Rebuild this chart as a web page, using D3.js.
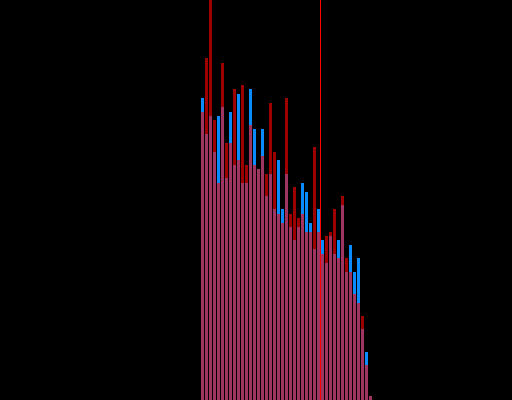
<!DOCTYPE html>
<html>
<head>
<meta charset="utf-8">
<script src="https://cdn.jsdelivr.net/npm/d3@7"></script>
<style>
  html, body { margin: 0; padding: 0; background: #000; overflow: hidden; }
</style>
</head>
<body>
<div id="chart"></div>
<script>
'use strict';

// bin index 0..42, counts per bin for the two series
var bins = d3.range(43);
var blueCounts = [302, 266, 284, 248, 284, 293, 222, 288, 235, 306,
                  217, 217, 311, 271, 231, 271, 204, 226, 191, 240,
                  191, 226, 173, 160, 173, 217, 208, 177, 151, 191,
                  160, 137, 164, 146, 160, 195, 128, 155, 128, 142,
                  71, 48, 4];
var redCounts = [288, 342, 400, 280, 217, 337, 257, 257, 311, 240,
                 315, 235, 275, 235, 231, 244, 226, 297, 248, 186,
                 177, 302, 186, 213, 182, 186, 168, 168, 253, 168,
                 146, 164, 168, 191, 142, 204, 142, 128, 106, 97,
                 84, 35, 4];
var markerValue = 29.75;

var width = 512,
    height = 400;

var svg = d3.select("#chart")
    .append("svg")
    .attr("width", width)
    .attr("height", height)
    .style("display", "block")
    .style("background", "#000");

var x = d3.scaleLinear()
    .domain([0, bins.length])
    .range([201, 201 + 4 * bins.length]);

var y = d3.scaleLinear()
    .domain([0, 400])
    .range([height, 0]);

var barW = x(1) - x(0) - 1;

// blue series first (opaque)
svg.append("g")
    .selectAll("rect")
    .data(bins)
    .enter().append("rect")
    .attr("x", function (d) { return x(d); })
    .attr("y", function (d) { return y(blueCounts[d]); })
    .attr("width", barW)
    .attr("height", function (d) { return height - y(blueCounts[d]); })
    .attr("fill", "#0a8cff");

// red series on top, semi transparent -> pink where they overlap
svg.append("g")
    .selectAll("rect")
    .data(bins)
    .enter().append("rect")
    .attr("x", function (d) { return x(d); })
    .attr("y", function (d) { return y(redCounts[d]); })
    .attr("width", barW)
    .attr("height", function (d) { return height - y(redCounts[d]); })
    .attr("fill", "#ff0000")
    .attr("fill-opacity", 0.62);

// marker line
svg.append("line")
    .attr("x1", x(markerValue) + 0.5)
    .attr("x2", x(markerValue) + 0.5)
    .attr("y1", 0)
    .attr("y2", height)
    .attr("stroke", "#ff0000")
    .attr("stroke-width", 1);
</script>
</body>
</html>
